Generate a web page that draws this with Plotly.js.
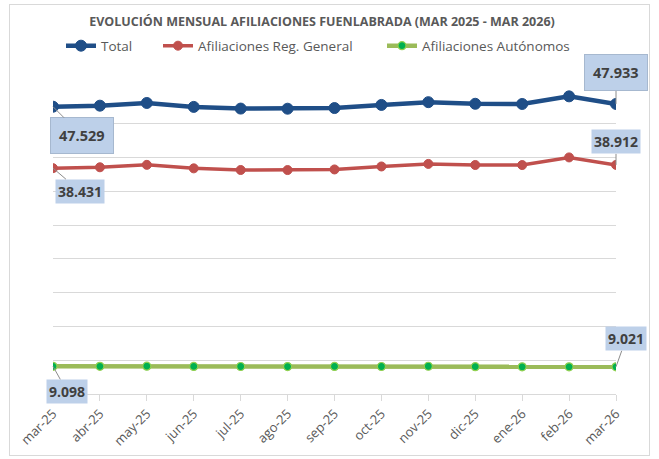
<!DOCTYPE html>
<html>
<head>
<meta charset="utf-8">
<script src="https://cdn.plot.ly/plotly-3.0.1.min.js"></script>
<style>
  html, body { margin: 0; padding: 0; background: #ffffff; }
  #frame { position: absolute; left: 9px; top: 4px; width: 641px; height: 452px; border: 1px solid #d9d9d9; box-sizing: border-box; }
  #chart { position: absolute; left: 0; top: 0; width: 659px; height: 459px; }
</style>
</head>
<body>
<div id="frame"></div>
<div id="chart"></div>
<script>
const months = ["mar-25","abr-25","may-25","jun-25","jul-25","ago-25","sep-25","oct-25","nov-25","dic-25","ene-26","feb-26","mar-26"];
const total = [47529, 47680, 48080, 47500, 47250, 47230, 47330, 47790, 48200, 47960, 47930, 49060, 47933];
const regGeneral = [38431, 38560, 38920, 38400, 38160, 38150, 38240, 38680, 39060, 38900, 38890, 40020, 38912];
const autonomos = [9098, 9100, 9120, 9080, 9070, 9060, 9080, 9070, 9110, 9050, 9030, 9030, 9021];
const seriesNames = ["Total", "Afiliaciones Reg. General", "Afiliaciones Autónomos"];
const chartTitle = "EVOLUCIÓN MENSUAL AFILIACIONES FUENLABRADA (MAR 2025 - MAR 2026)";

function fmt(v) {
  return String(v).replace(/\B(?=(\d{3})+(?!\d))/g, ".");
}

const FONT = "'Open Sans', 'Noto Sans', sans-serif";
const xIdx = months.map((m, i) => i);

const traces = [
  {
    x: xIdx, y: total, name: seriesNames[0], type: "scatter", mode: "lines+markers", legend: "legend",
    line: { color: "#1f4e87", width: 4.5 },
    marker: { color: "#1f4e87", size: 11, line: { color: "#1f4e87", width: 1 } }
  },
  {
    x: xIdx, y: regGeneral, name: seriesNames[1], type: "scatter", mode: "lines+markers", legend: "legend2",
    line: { color: "#c0504d", width: 3.5 },
    marker: { color: "#c0504d", size: 9, line: { color: "#c0504d", width: 1 } }
  },
  {
    x: xIdx, y: autonomos, name: seriesNames[2], type: "scatter", mode: "lines+markers", legend: "legend3",
    line: { color: "#9bbb59", width: 4.5 },
    marker: { color: "#00b050", size: 8, line: { color: "#92d050", width: 1.2 } }
  }
];

const last = months.length - 1;
function label(xi, yv, ax, ay, pad, boxed) {
  return {
    x: xi, y: yv, xref: "x", yref: "y",
    text: "<b>" + fmt(yv) + "</b>",
    showarrow: true, arrowhead: 0, arrowwidth: 1, arrowcolor: "#8c8c8c",
    ax: ax, ay: ay, standoff: 0,
    font: { family: FONT, size: boxed ? 14.5 : 14, color: "#404040" },
    bgcolor: "#bdd0e9", bordercolor: boxed ? "#a6b8cf" : "rgba(0,0,0,0)", borderwidth: 1, borderpad: pad
  };
}

const annotations = [
  label(0, total[0], 29, 29, 8, true),
  label(last, total[last], 0, -31, 8, true),
  label(0, regGeneral[0], 27, 23, 2, false),
  label(last, regGeneral[last], 0, -23, 2, false),
  label(0, autonomos[0], 14, 25, 2, false),
  label(last, autonomos[last], 10, -28, 2, false)
];

function legendAt(xpx) {
  return {
    orientation: "h",
    xref: "container", yref: "container",
    x: xpx / 659, xanchor: "left", y: 0.90, yanchor: "middle",
    font: { family: FONT, size: 13.5, color: "#595959" },
    bgcolor: "rgba(0,0,0,0)"
  };
}

const layout = {
  width: 659, height: 459,
  margin: { l: 52.7, r: 43, t: 90, b: 65 },
  paper_bgcolor: "rgba(0,0,0,0)",
  plot_bgcolor: "rgba(0,0,0,0)",
  showlegend: true,
  title: {
    text: "<b>" + chartTitle + "</b>",
    font: { family: FONT, size: 12.5, color: "#595959" },
    xref: "container", x: 0.4886, xanchor: "center",
    yref: "container", y: 0.953, yanchor: "middle"
  },
  legend: legendAt(61),
  legend2: legendAt(158),
  legend3: legendAt(382),
  xaxis: {
    type: "linear",
    range: [0, last],
    tickmode: "array", tickvals: xIdx, ticktext: months,
    tickangle: -45,
    tickfont: { family: FONT, size: 13, color: "#595959" },
    ticks: "outside", ticklen: 6, tickcolor: "#d9d9d9",
    showline: true, linecolor: "#d9d9d9", linewidth: 1,
    showgrid: false, zeroline: false
  },
  yaxis: {
    range: [5000, 50000],
    tickmode: "linear", tick0: 5000, dtick: 5000,
    showticklabels: false,
    showgrid: true, gridcolor: "#d9d9d9", gridwidth: 1,
    zeroline: false, showline: false
  },
  annotations: annotations
};

Plotly.newPlot("chart", traces, layout, { staticPlot: true, displayModeBar: false });
</script>
</body>
</html>
